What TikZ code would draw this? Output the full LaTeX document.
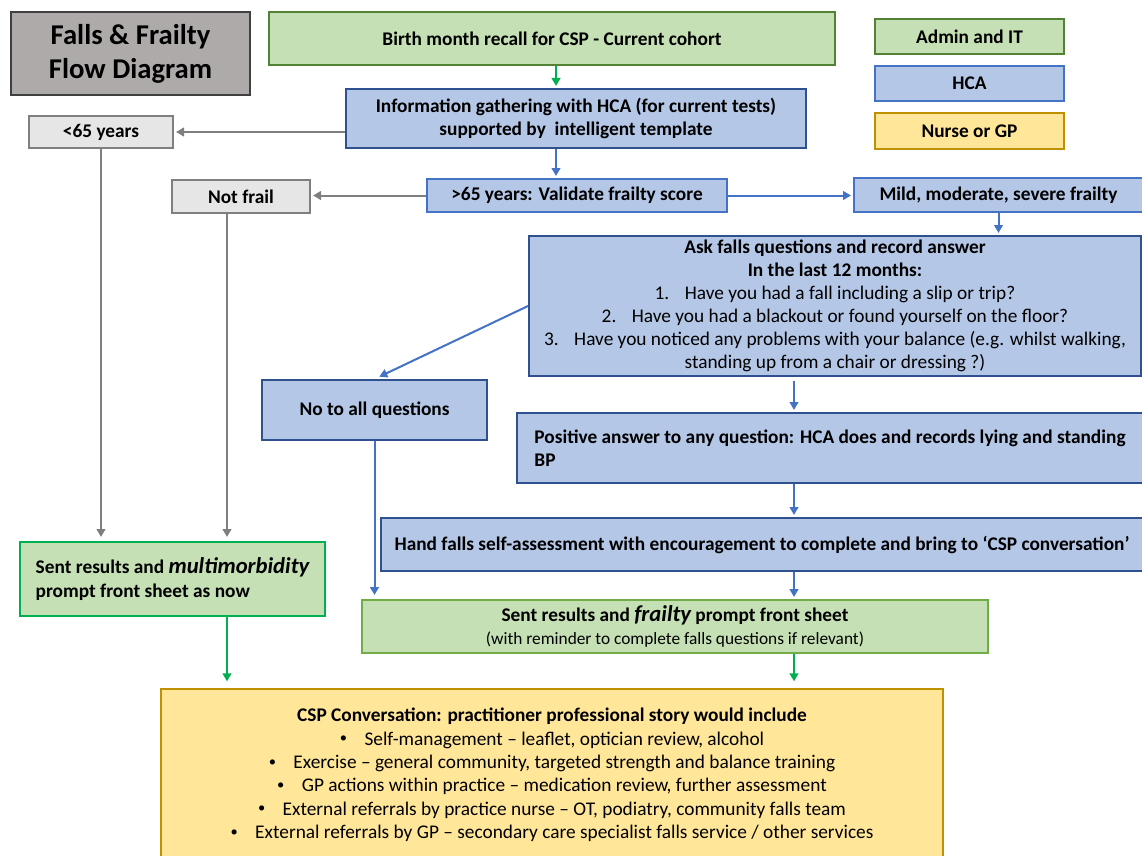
\documentclass[tikz,border=0pt]{standalone}
\usepackage{fontspec}
\setmainfont{Carlito}
\usetikzlibrary{arrows.meta}
\definecolor{gfill}{HTML}{C5E0B4}
\definecolor{gline}{HTML}{548235}
\definecolor{gbright}{HTML}{00B050}
\definecolor{gmid}{HTML}{70AD47}
\definecolor{bfill}{HTML}{B4C7E7}
\definecolor{bline}{HTML}{4472C4}
\definecolor{bdark}{HTML}{2F528F}
\definecolor{yfill}{HTML}{FFE699}
\definecolor{yline}{HTML}{BF9000}
\definecolor{lgfill}{HTML}{E7E6E6}
\definecolor{lgline}{HTML}{7F7F7F}
\definecolor{tfill}{HTML}{AEAAAA}
\definecolor{tline}{HTML}{404040}
\newcommand\flowbox[7]{\node[#6, minimum width={(#4-#2)*0.75pt}, minimum height={(#5-#3)*0.75pt}] (#1) at ({(#2+#4)/2},{(#3+#5)/2}) {#7};}
\newcommand\smallbul{\raisebox{0.12em}{\scalebox{0.75}{\textbullet}}\hspace{0.9em}}
\tikzset{
  base/.style={draw, line width=1.5pt, inner sep=0pt, font=\fontsize{14.5}{17.2}\selectfont\bfseries, align=center},
  greenbox/.style={base, fill=gfill, draw=gline},
  bluebox/.style={base, fill=bfill, draw=bline},
  darkbluebox/.style={base, fill=bfill, draw=bdark},
  greybox/.style={base, fill=lgfill, draw=lgline},
  yellowbox/.style={base, fill=yfill, draw=yline},
  titlebox/.style={base, fill=tfill, draw=tline, font=\fontsize{21.5}{25.5}\selectfont\bfseries},
  arr/.style={line width=1.5pt, -{Triangle[length=6pt,width=6.5pt]}, shorten >=1.5pt},
  arrG/.style={arr, draw=gbright},
  arrB/.style={arr, draw=bline},
  arrK/.style={arr, draw=lgline},
}
\begin{document}
\begin{tikzpicture}[x=0.75pt,y=-0.75pt]
\useasboundingbox (0,0) rectangle (1142,856);
\fill[white] (0,0) rectangle (1142,856);
\flowbox{title}{11}{12}{250}{95}{titlebox}{Falls \& Frailty\\Flow Diagram}
\flowbox{birth}{269}{12}{835}{65}{greenbox}{Birth month recall for CSP - Current cohort}
\flowbox{legA}{875}{19}{1064}{54}{greenbox}{Admin and IT}
\flowbox{legH}{875}{66}{1064}{101}{bluebox}{HCA}
\flowbox{legN}{875}{113}{1064}{149}{yellowbox}{Nurse or GP}
\flowbox{info}{346}{89}{806}{148}{darkbluebox}{Information gathering with HCA (for current tests)\\supported by\ \ intelligent template}
\flowbox{lt65}{29}{116}{173}{148}{greybox}{<65 years}
\flowbox{notfrail}{172}{180}{310}{213}{greybox}{Not frail}
\flowbox{gt65}{427}{179}{727}{212}{bluebox}{>65 years: Validate frailty score}
\flowbox{mild}{854}{178}{1143}{212}{bluebox}{Mild, moderate, severe frailty}
\flowbox{ask}{529}{236}{1141}{376}{darkbluebox}{Ask falls questions and record answer\\In the last 12 months:\\
{\mdseries 1.\hspace{0.8em}Have you had a fall including a slip or trip?}\\
{\mdseries 2.\hspace{0.8em}Have you had a blackout or found yourself on the floor?}\\
{\mdseries 3.\hspace{0.8em}Have you noticed any problems with your balance (e.g. whilst walking,}\\
{\mdseries standing up from a chair or dressing ?)}}
\flowbox{noall}{262}{380}{487}{440}{darkbluebox}{No to all questions}
\flowbox{positive}{517}{413}{1143}{483}{darkbluebox, align=left}{Positive answer to any question: HCA does and records lying and standing\\BP}
\flowbox{hand}{381}{518}{1143}{571}{darkbluebox}{Hand falls self-assessment with encouragement to complete and bring to `CSP conversation'}
\flowbox{sentm}{20}{542}{325}{616}{greenbox, draw=gbright, align=left, font=\fontsize{14.5}{18}\selectfont\bfseries}{Sent results and {\fontsize{17}{18}\selectfont\itshape multimorbidity}\\prompt front sheet as now}
\flowbox{sentf}{362}{600}{988}{653}{greenbox, draw=gmid, font=\fontsize{14.5}{17}\selectfont\bfseries}{Sent results and {\fontsize{17}{17}\selectfont\itshape frailty} prompt front sheet\\{\mdseries\fontsize{13}{15}\selectfont (with reminder to complete falls questions if relevant)}}
\flowbox{csp}{161}{689}{943}{861}{yellowbox, font=\fontsize{14.5}{17.5}\selectfont}{{\bfseries CSP Conversation: practitioner professional story would include}\\
\smallbul Self-management -- leaflet, optician review, alcohol\\
\smallbul Exercise -- general community, targeted strength and balance training\\
\smallbul GP actions within practice -- medication review, further assessment\\
\smallbul External referrals by practice nurse -- OT, podiatry, community falls team\\
\smallbul External referrals by GP -- secondary care specialist falls service / other services}
\coordinate (vx) at (794,0);
\coordinate (nfx) at (227,0);
\coordinate (bx) at (556,0);
\draw[arrG] (birth.south -| bx) -- (info.north -| bx);
\draw[arrK] (info.west |- lt65.east) -- (lt65.east);
\draw[arrB] (info.south -| bx) -- (gt65.north -| bx);
\draw[arrK] (gt65.west) -- (notfrail.east |- gt65.west);
\draw[arrB] (gt65.east) -- (mild.west |- gt65.east);
\draw[arrB] (mild.south) -- (mild.south |- ask.north);
\draw[arrB, shorten >=4pt] (ask.west) -- (noall.north);
\draw[arrB] ([yshift=-3pt]ask.south -| vx) -- (positive.north -| vx);
\draw[arrB] (positive.south -| vx) -- (hand.north -| vx);
\draw[arrB] (hand.south -| vx) -- (sentf.north -| vx);
\draw[arrB, shorten >=3pt] (noall.south) -- (noall.south |- sentf.north);
\draw[arrK, shorten >=3pt] (lt65.south) -- (lt65.south |- sentm.north);
\draw[arrK, shorten >=3pt] (notfrail.south -| nfx) -- (sentm.north -| nfx);
\draw[arrG, shorten >=5pt] (sentm.south -| nfx) -- (csp.north -| nfx);
\draw[arrG, shorten >=5pt] (sentf.south -| vx) -- (csp.north -| vx);
\end{tikzpicture}
\end{document}
